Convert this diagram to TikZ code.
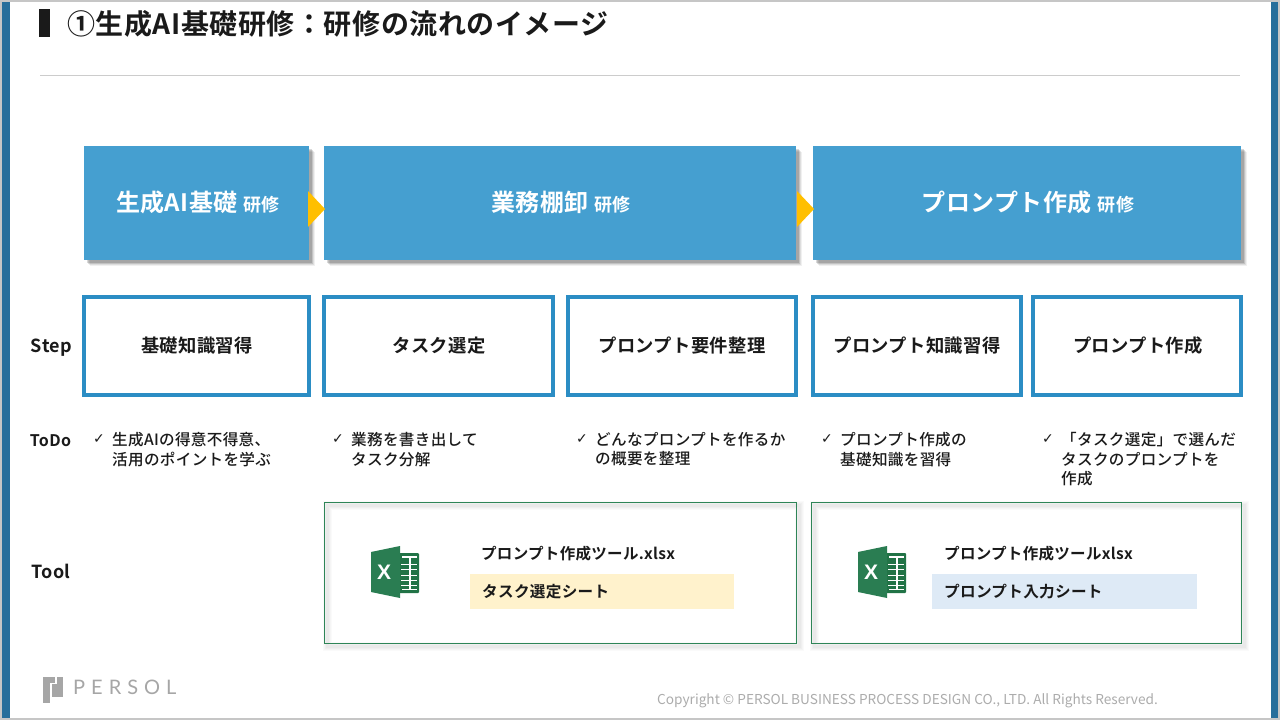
\documentclass[tikz,border=0pt]{standalone}
\usepackage{fontspec}
\setmainfont{Noto Sans CJK JP}[BoldFont={* Bold}]
\newfontfamily\jpb[LetterSpace=2]{Noto Sans CJK JP Bold}
\newfontfamily\jpm[LetterSpace=2]{Noto Sans CJK JP Medium}
\newfontfamily\chk{DejaVu Sans}
\newfontfamily\lgo[LetterSpace=30]{Lato}
\newfontfamily\xfont{Liberation Sans Bold}
\definecolor{barblue}{HTML}{276E9B}
\definecolor{headblue}{HTML}{459FD0}
\definecolor{stepblue}{HTML}{2B8DC4}
\definecolor{arrowyellow}{HTML}{FFBF00}
\definecolor{toolgreen}{HTML}{2E8557}
\definecolor{xlgreen}{HTML}{217346}
\definecolor{xlpanel}{HTML}{2A7D52}
\definecolor{sheetyellow}{HTML}{FFF2CC}
\definecolor{sheetblue}{HTML}{DEEAF6}
\definecolor{ink}{HTML}{1A1A1A}
\definecolor{logogray}{HTML}{A6A6A6}
\tikzset{
  x=1pt,y=-1pt,
  stepbox/.style={draw=stepblue,line width=3.5pt,fill=white,inner sep=0},
  toolbox/.style={draw=toolgreen,line width=0.9pt,inner sep=0},
  headtext/.style={text=white,inner sep=0,font=\jpb\fontsize{24}{28}\selectfont},
  steptext/.style={text=ink,inner sep=0,font=\jpb\fontsize{18.3}{22}\selectfont},
  sidetext/.style={text=ink,inner sep=0,font=\jpb\fontsize{18}{22}\selectfont},
  todotext/.style={text=ink,inner sep=0,anchor=north west,align=left,font=\jpm\fontsize{15.6}{19.6}\selectfont},
  chktext/.style={text=ink,inner sep=0,font=\chk\fontsize{14}{16}\selectfont},
  tooltext/.style={text=ink,inner sep=0,anchor=west,font=\jpb\fontsize{15.5}{18}\selectfont},
  sheettext/.style={text=ink,inner sep=0,anchor=west,font=\jpb\fontsize{15.6}{18}\selectfont},
}
\newcommand{\softshadow}[4]{% x1 y1 x2 y2
  \foreach \d/\o in {6/0.06,5/0.08,4/0.12,3/0.15}{
    \fill[black,opacity=\o] (#1+\d,#2+\d) rectangle (#3+\d,#4+\d);
  }
}
\newcommand{\softtool}[4]{% outline shadow of the frame
  \foreach \w/\o in {9/0.02,7/0.02,5/0.025,3/0.025}{
    \draw[black,opacity=\o,line width=\w pt] (#1+3,#2+3) rectangle (#3+3,#4+3);
  }
}
\newcommand{\xlicon}[2]{% top-left of the icon
  \begin{scope}[shift={(#1,#2)}]
    \fill[xlgreen,rounded corners=1pt] (20,7) rectangle (48,47);
    \fill[white] (31,10) rectangle (46,44);
    \fill[xlgreen] (31,12) rectangle (38,42.5);
    \fill[xlgreen] (39.5,12) rectangle (46,42.5);
    \foreach \y in {17.5,23,28.5,34,39}{\fill[white] (30,\y) rectangle (46,\y+1.2);}
    \fill[xlpanel] (0,6) -- (29,0) -- (29,52) -- (0,46) -- cycle;
    \node[text=white,inner sep=0,font=\xfont\fontsize{21}{22}\selectfont] at (13,26.5) {X};
  \end{scope}
}
\begin{document}
\begin{tikzpicture}
\useasboundingbox (0,0) rectangle (1280,720);
\fill[white] (0,0) rectangle (1280,720);
% slide frame
\fill[barblue] (2,2) rectangle (10,718);
\fill[barblue] (1271,2) rectangle (1278,718);
\draw[gray!45,line width=2pt] (1,1) rectangle (1279,719);
% title
\fill[ink] (39,9) rectangle (49.5,37);
\node (title) [text=ink,inner sep=0,anchor=west,font=\jpb\fontsize{28}{32}\selectfont] at (67,24) {①生成AI基礎研修：研修の流れのイメージ};
\draw[gray!40,line width=1pt] (40,75) -- (1240,75);
% header boxes
\softshadow{84}{146}{309}{260}
\softshadow{324}{146}{796}{260}
\softshadow{813}{146}{1241}{260}
\fill[headblue] (84,146) rectangle (309,260);
\fill[headblue] (324,146) rectangle (796,260);
\fill[headblue] (813,146) rectangle (1241,260);
\node (h1) [headtext] at (198,202) {生成AI基礎 {\fontsize{18}{20}\selectfont 研修}};
\node (h2) [headtext] at (561,202) {業務棚卸 {\fontsize{18}{20}\selectfont 研修}};
\node (h3) [headtext] at (1028,202) {プロンプト作成 {\fontsize{18}{20}\selectfont 研修}};
\fill[arrowyellow] (308,191) -- (325,209) -- (308,227) -- cycle;
\fill[arrowyellow] (797,191) -- (814,209) -- (797,227) -- cycle;
% steps
\draw[stepbox] (84,297) rectangle (309,395);
\draw[stepbox] (324,297) rectangle (553,395);
\draw[stepbox] (568,297) rectangle (796,395);
\draw[stepbox] (813,297) rectangle (1021,395);
\draw[stepbox] (1033,297) rectangle (1241,395);
\node (s1) [steptext] at (197,345.5) {基礎知識習得};
\node (s2) [steptext] at (439,345.5) {タスク選定};
\node (s3) [steptext] at (682,345.5) {プロンプト要件整理};
\node (s4) [steptext] at (917,345.5) {プロンプト知識習得};
\node (s5) [steptext] at (1138,345.5) {プロンプト作成};
% side labels
\node (lstep) [sidetext] at (51.5,348) {Step};
\node (ltodo) [text=ink,inner sep=0,font=\jpb\fontsize{16}{18}\selectfont] at (50.5,441) {ToDo};
\node (ltool) [sidetext] at (51,571.5) {Tool};
% todo
\node (c1) [chktext] at (99,439) {✓};
\node (t1) [todotext] at (112,432) {生成AIの得意不得意、\\活用のポイントを学ぶ};
\node (c2) [chktext] at (338,439) {✓};
\node (t2) [todotext] at (351,432) {業務を書き出して\\タスク分解};
\node (c3) [chktext] at (582,439) {✓};
\node (t3) [todotext] at (595,432) {どんなプロンプトを作るか\\の概要を整理};
\node (c4) [chktext] at (827,439) {✓};
\node (t4) [todotext] at (840,432) {プロンプト作成の\\基礎知識を習得};
\node (c5) [chktext] at (1048,439) {✓};
\node (t5) [todotext] at (1061,432) {「タスク選定」で選んだ\\タスクのプロンプトを\\作成};
% tools
\softtool{324.5}{502.5}{796.5}{643.5}
\softtool{811.5}{502.5}{1241.5}{643.5}
\draw[toolbox] (324.5,502.5) rectangle (796.5,643.5);
\draw[toolbox] (811.5,502.5) rectangle (1241.5,643.5);
\xlicon{371}{546}
\xlicon{858}{546}
\node (f1) [tooltext] at (481,553.5) {プロンプト作成ツール.xlsx};
\fill[sheetyellow] (470,574) rectangle (734,609);
\node (sh1) [sheettext] at (482,591.5) {タスク選定シート};
\node (f2) [tooltext] at (944,553.5) {プロンプト作成ツールxlsx};
\fill[sheetblue] (932,574) rectangle (1197,609);
\node (sh2) [sheettext] at (944,591.5) {プロンプト入力シート};
% logo
\fill[logogray] (43,677) rectangle (55,683);
\fill[logogray] (43,677) rectangle (50,703);
\fill[logogray] (52,684) rectangle (63,697);
\fill[logogray] (57,677) rectangle (63,697);
\node (logo) [text=logogray,inner sep=0,anchor=west,font=\lgo\fontsize{20}{22}\selectfont] at (73,687) {PERSOL};
% copyright
\node (copy) [text=gray!65,inner sep=0,anchor=west,font=\fontsize{13.65}{16}\selectfont] at (657,700.5) {Copyright © PERSOL BUSINESS PROCESS DESIGN CO., LTD. All Rights Reserved.};
\end{tikzpicture}
\end{document}
